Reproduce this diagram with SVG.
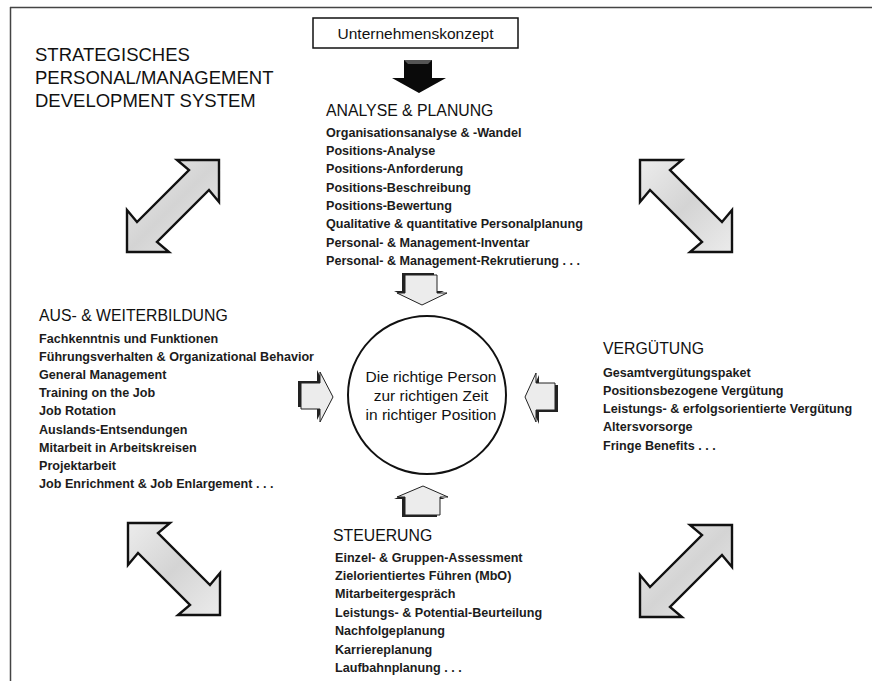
<svg xmlns="http://www.w3.org/2000/svg" width="872" height="681" viewBox="0 0 872 681">
<style>
  text { font-family: "Liberation Sans", Arial, sans-serif; fill: #111; }
  .title { font-size: 18.5px; }
  .head { font-size: 15.8px; }
  .item { font-size: 12.6px; font-weight: bold; fill: #1c1c1c; }
  .ctext { font-size: 15.5px; text-anchor: middle; }
  .big { fill: url(#speck); stroke: #111; stroke-width: 2.4; stroke-linejoin: miter; }
  .small { fill: #ececec; stroke: #222; stroke-width: 1; }
  .shadow { fill: #222; }
</style>
<defs>
  <linearGradient id="speck" x1="0" y1="0" x2="1" y2="1">
    <stop offset="0" stop-color="#ececec"/>
    <stop offset="0.5" stop-color="#d4d4d4"/>
    <stop offset="1" stop-color="#ebebeb"/>
  </linearGradient>
</defs>
<rect x="0" y="0" width="872" height="681" fill="#ffffff"/>
<g id="frame" stroke="#444" stroke-width="1.5" fill="none">
  <line x1="10" y1="7.5" x2="872" y2="7.5"/>
  <line x1="10.5" y1="7" x2="10.5" y2="681"/>
</g>
<g id="title">
  <text class="title" x="35" y="61">STRATEGISCHES</text>
  <text class="title" x="35" y="84">PERSONAL/MANAGEMENT</text>
  <text class="title" x="35" y="107">DEVELOPMENT SYSTEM</text>
</g>
<g id="node-konzept">
  <rect x="313" y="18" width="205" height="30" fill="#fff" stroke="#111" stroke-width="1.5"/>
  <text x="415.5" y="38.5" font-size="15.5" text-anchor="middle">Unternehmenskonzept</text>
</g>
<g id="node-analyse">
  <text class="head" x="326" y="116">ANALYSE &amp; PLANUNG</text>
  <text class="item" x="326" y="136.5">Organisationsanalyse &amp; -Wandel</text>
  <text class="item" x="326" y="155">Positions-Analyse</text>
  <text class="item" x="326" y="173.3">Positions-Anforderung</text>
  <text class="item" x="326" y="191.6">Positions-Beschreibung</text>
  <text class="item" x="326" y="210">Positions-Bewertung</text>
  <text class="item" x="326" y="228.3">Qualitative &amp; quantitative Personalplanung</text>
  <text class="item" x="326" y="246.6">Personal- &amp; Management-Inventar</text>
  <text class="item" x="326" y="265">Personal- &amp; Management-Rekrutierung . . .</text>
</g>
<g id="node-aus">
  <text class="head" x="39" y="321">AUS- &amp; WEITERBILDUNG</text>
  <text class="item" x="39" y="342.5">Fachkenntnis und Funktionen</text>
  <text class="item" x="39" y="360.7">Führungsverhalten &amp; Organizational Behavior</text>
  <text class="item" x="39" y="378.9">General Management</text>
  <text class="item" x="39" y="397.1">Training on the Job</text>
  <text class="item" x="39" y="415.3">Job Rotation</text>
  <text class="item" x="39" y="433.5">Auslands-Entsendungen</text>
  <text class="item" x="39" y="451.7">Mitarbeit in Arbeitskreisen</text>
  <text class="item" x="39" y="469.9">Projektarbeit</text>
  <text class="item" x="39" y="488.1">Job Enrichment &amp; Job Enlargement . . .</text>
</g>
<g id="node-verguetung">
  <text class="head" x="603" y="354">VERGÜTUNG</text>
  <text class="item" x="603" y="376.5">Gesamtvergütungspaket</text>
  <text class="item" x="603" y="394.8">Positionsbezogene Vergütung</text>
  <text class="item" x="603" y="413.1">Leistungs- &amp; erfolgsorientierte Vergütung</text>
  <text class="item" x="603" y="431.4">Altersvorsorge</text>
  <text class="item" x="603" y="449.7">Fringe Benefits . . .</text>
</g>
<g id="node-steuerung">
  <text class="head" x="333" y="541">STEUERUNG</text>
  <text class="item" x="335" y="561.5">Einzel- &amp; Gruppen-Assessment</text>
  <text class="item" x="335" y="579.9">Zielorientiertes Führen (MbO)</text>
  <text class="item" x="335" y="598.3">Mitarbeitergespräch</text>
  <text class="item" x="335" y="616.7">Leistungs- &amp; Potential-Beurteilung</text>
  <text class="item" x="335" y="635.1">Nachfolgeplanung</text>
  <text class="item" x="335" y="653.5">Karriereplanung</text>
  <text class="item" x="335" y="671.9">Laufbahnplanung . . .</text>
</g>
<g id="node-center">
  <circle cx="427" cy="395" r="79" fill="#fff" stroke="#111" stroke-width="2"/>
  <text class="ctext" x="431" y="382">Die richtige Person</text>
  <text class="ctext" x="431" y="401">zur richtigen Zeit</text>
  <text class="ctext" x="431" y="420">in richtiger Position</text>
</g>
<g id="connectors">
  <polygon points="404,60 432,60 432,78 446,78 419,93 392,78 404,78" fill="#0a0a0a"/>
  <polygon points="404,60 432,60 428,64 408,64" fill="#555"/>
  <polygon class="shadow" points="402,273 434,273 434,291 444,291 419,303 394,291 402,291"/>
  <polygon class="small" points="405,275 437,275 437,293 447,293 422,305 397,293 405,293"/>
  <polygon class="shadow" points="298,381 317,381 317,370 330,395 317,420 317,407 298,407"/>
  <polygon class="small" points="301,383 320,383 320,372 333,397 320,422 320,409 301,409"/>
  <polygon class="shadow" points="528,399 539,375 539,385 558,385 558,412 539,412 539,424"/>
  <polygon class="small" points="525,397 536,373 536,383 555,383 555,410 536,410 536,422"/>
  <polygon class="shadow" points="420,488 445,499 437,499 437,517 402,517 402,499 394,499"/>
  <polygon class="small" points="423,486 448,497 440,497 440,515 405,515 405,497 397,497"/>
  <polygon class="big" points="127,252 169,252 157,242 209,190 219,202 219,160 177,160 189,170 137,222 127,210"/>
  <polygon class="big" points="640,160 682,160 670,170 722,222 732,210 732,252 690,252 702,242 650,190 640,202"/>
  <polygon class="big" points="128,523 170,523 158,533 210,585 220,573 220,615 178,615 190,605 138,553 128,565"/>
  <polygon class="big" points="640,617 682,617 670,607 722,555 732,567 732,525 690,525 702,535 650,587 640,575"/>
</g>
</svg>
